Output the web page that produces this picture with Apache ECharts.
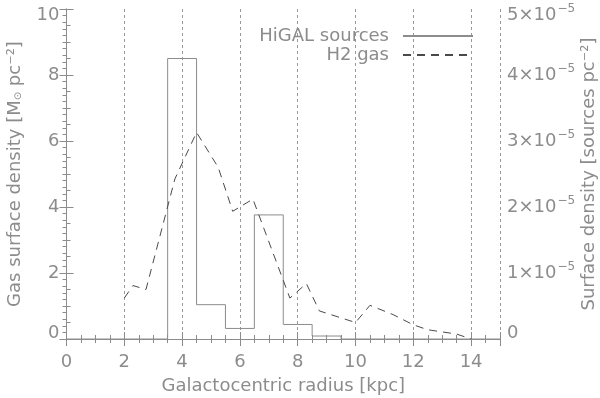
<!DOCTYPE html>
<html>
<head>
<meta charset="utf-8">
<script src="https://cdn.jsdelivr.net/npm/echarts@6/dist/echarts.min.js"></script>
<style>
  html, body { margin: 0; padding: 0; background: #fff; }
  #chart { width: 600px; height: 398px; }
</style>
</head>
<body>
<div id="chart"></div>
<script>
// HiGAL source surface density, one value per 1 kpc bin (bin centres 0..15)
var binCentres = [0, 1, 2, 3, 4, 5, 6, 7, 8, 9, 10, 11, 12, 13, 14, 15]
var hiGalDensity = [0, 0, 0, 0, 4.25e-5, 0.52e-5, 0.16e-5, 1.88e-5, 0.22e-5, 0.045e-5, 0, 0, 0, 0, 0, 0]

// H2 gas surface density (Msun pc^-2) against galactocentric radius
var gasRadius = [2.0, 2.3, 2.75, 3.75, 4.5, 5.25, 5.75, 6.45, 7.73, 8.3, 8.75, 10.0, 10.5, 11.3, 12.0, 12.5, 13.5, 14.0]
var gasDensity = [1.24, 1.62, 1.5, 4.85, 6.26, 5.2, 3.87, 4.24, 1.24, 1.68, 0.85, 0.5, 1.02, 0.74, 0.43, 0.28, 0.15, 0.0]

var seriesNames = ['HiGAL sources', 'H2 gas']

var grey = '#8c8c8c'
var font = 'DejaVu Sans'

var chart = echarts.init(document.getElementById('chart'))

let sources = binCentres.map(function (x, i) {
  return [x, hiGalDensity[i]]
})
let gas = gasRadius.map(function (x, i) {
  return [x, gasDensity[i]]
})

let axisText = { color: grey, fontFamily: font, fontSize: 18 }
let nameRich = {
  s: { color: grey, fontFamily: font, fontSize: 10, padding: [6, 0, 0, 0] }
}
// edge labels are pushed inside the frame, like the original plot
let labelRich = {
  n: { color: grey, fontFamily: font, fontSize: 18, lineHeight: 22 },
  e: { color: grey, fontFamily: font, fontSize: 12, lineHeight: 22, padding: [0, 0, 12, 1] },
  sp: { fontSize: 1, lineHeight: 12 }
}
function edgeLabel (text, isTop, isBottom) {
  if (isTop) return '{sp| }\n' + text
  if (isBottom) return text + '\n{sp| }'
  return text
}

let option = {
  animation: false,
  grid: {
    left: 66.5,
    right: 100,
    top: 9,
    bottom: 59,
    containLabel: false,
    outerBoundsMode: 'none'
  },
  legend: {
    data: seriesNames,
    orient: 'vertical',
    right: 121,
    top: 22,
    align: 'right',
    itemWidth: 70,
    itemHeight: 14,
    itemGap: 1,
    itemStyle: { opacity: 0 },
    textStyle: { color: grey, fontFamily: font, fontSize: 18, padding: [0, 9, 0, 0] }
  },
  xAxis: [
    {
      type: 'value',
      min: 0,
      max: 15,
      interval: 2,
      name: 'Galactocentric radius [kpc]',
      nameLocation: 'middle',
      nameGap: 38,
      nameTextStyle: axisText,
      axisLine: { onZero: false, lineStyle: { color: grey } },
      axisTick: { inside: true, length: 7, lineStyle: { color: grey } },
      minorTick: { show: true, splitNumber: 4, length: 4, lineStyle: { color: grey } },
      axisLabel: { margin: 14, color: grey, fontFamily: font, fontSize: 18, showMaxLabel: false },
      splitLine: { show: true, lineStyle: { color: '#999', type: [3, 3], width: 1 } }
    },
    {
      type: 'value',
      position: 'top',
      min: 0,
      max: 15,
      interval: 2,
      axisLine: { lineStyle: { color: grey } },
      axisTick: { inside: true, length: 7, lineStyle: { color: grey } },
      minorTick: { show: true, splitNumber: 4, length: 4, lineStyle: { color: grey } },
      axisLabel: { show: false },
      splitLine: { show: false }
    }
  ],
  yAxis: [
    {
      type: 'value',
      min: 0,
      max: 10,
      interval: 2,
      name: 'Gas surface density [M{s|\u2299} pc\u207B\u00B2]',
      nameLocation: 'middle',
      nameGap: 42,
      nameMoveOverlap: false,
      nameTextStyle: Object.assign({ rich: nameRich }, axisText),
      axisLine: { show: true, lineStyle: { color: grey } },
      axisTick: { show: true, inside: true, length: 7, lineStyle: { color: grey } },
      minorTick: { show: true, splitNumber: 4, length: 4, lineStyle: { color: grey } },
      axisLabel: {
        margin: 7,
        color: grey,
        fontFamily: font,
        fontSize: 18,
        formatter: function (v) {
          return edgeLabel('{n|' + v + '}', v === 10, v === 0)
        },
        rich: labelRich
      },
      splitLine: { show: false }
    },
    {
      type: 'value',
      position: 'right',
      min: 0,
      max: 5e-5,
      interval: 1e-5,
      name: 'Surface density [sources pc\u207B\u00B2]',
      nameLocation: 'middle',
      nameGap: 80,
      nameRotate: 90,
      nameMoveOverlap: false,
      nameTextStyle: axisText,
      axisLine: { show: true, lineStyle: { color: grey } },
      axisTick: { show: true, inside: true, length: 7, lineStyle: { color: grey } },
      minorTick: { show: true, splitNumber: 10, length: 4, lineStyle: { color: grey } },
      axisLabel: {
        margin: 7,
        color: grey,
        fontFamily: font,
        fontSize: 18,
        formatter: function (v) {
          let k = Math.round(v * 1e5)
          let text = k === 0 ? '{n|0}' : '{n|' + k + '\u00D710}{e|\u22125}'
          return edgeLabel(text, k === 5, k === 0)
        },
        rich: labelRich
      },
      splitLine: { show: false }
    }
  ],
  series: [
    {
      name: seriesNames[0],
      type: 'line',
      step: 'middle',
      xAxisIndex: 0,
      yAxisIndex: 1,
      showSymbol: false,
      symbol: 'none',
      color: grey,
      lineStyle: { color: grey, width: 1 },
      data: sources
    },
    {
      name: seriesNames[1],
      type: 'line',
      xAxisIndex: 0,
      yAxisIndex: 0,
      showSymbol: false,
      symbol: 'none',
      color: '#4a4a4a',
      lineStyle: { color: '#4a4a4a', width: 1, type: [8, 6] },
      data: gas
    }
  ]
}
chart.setOption(option)
</script>
</body>
</html>
